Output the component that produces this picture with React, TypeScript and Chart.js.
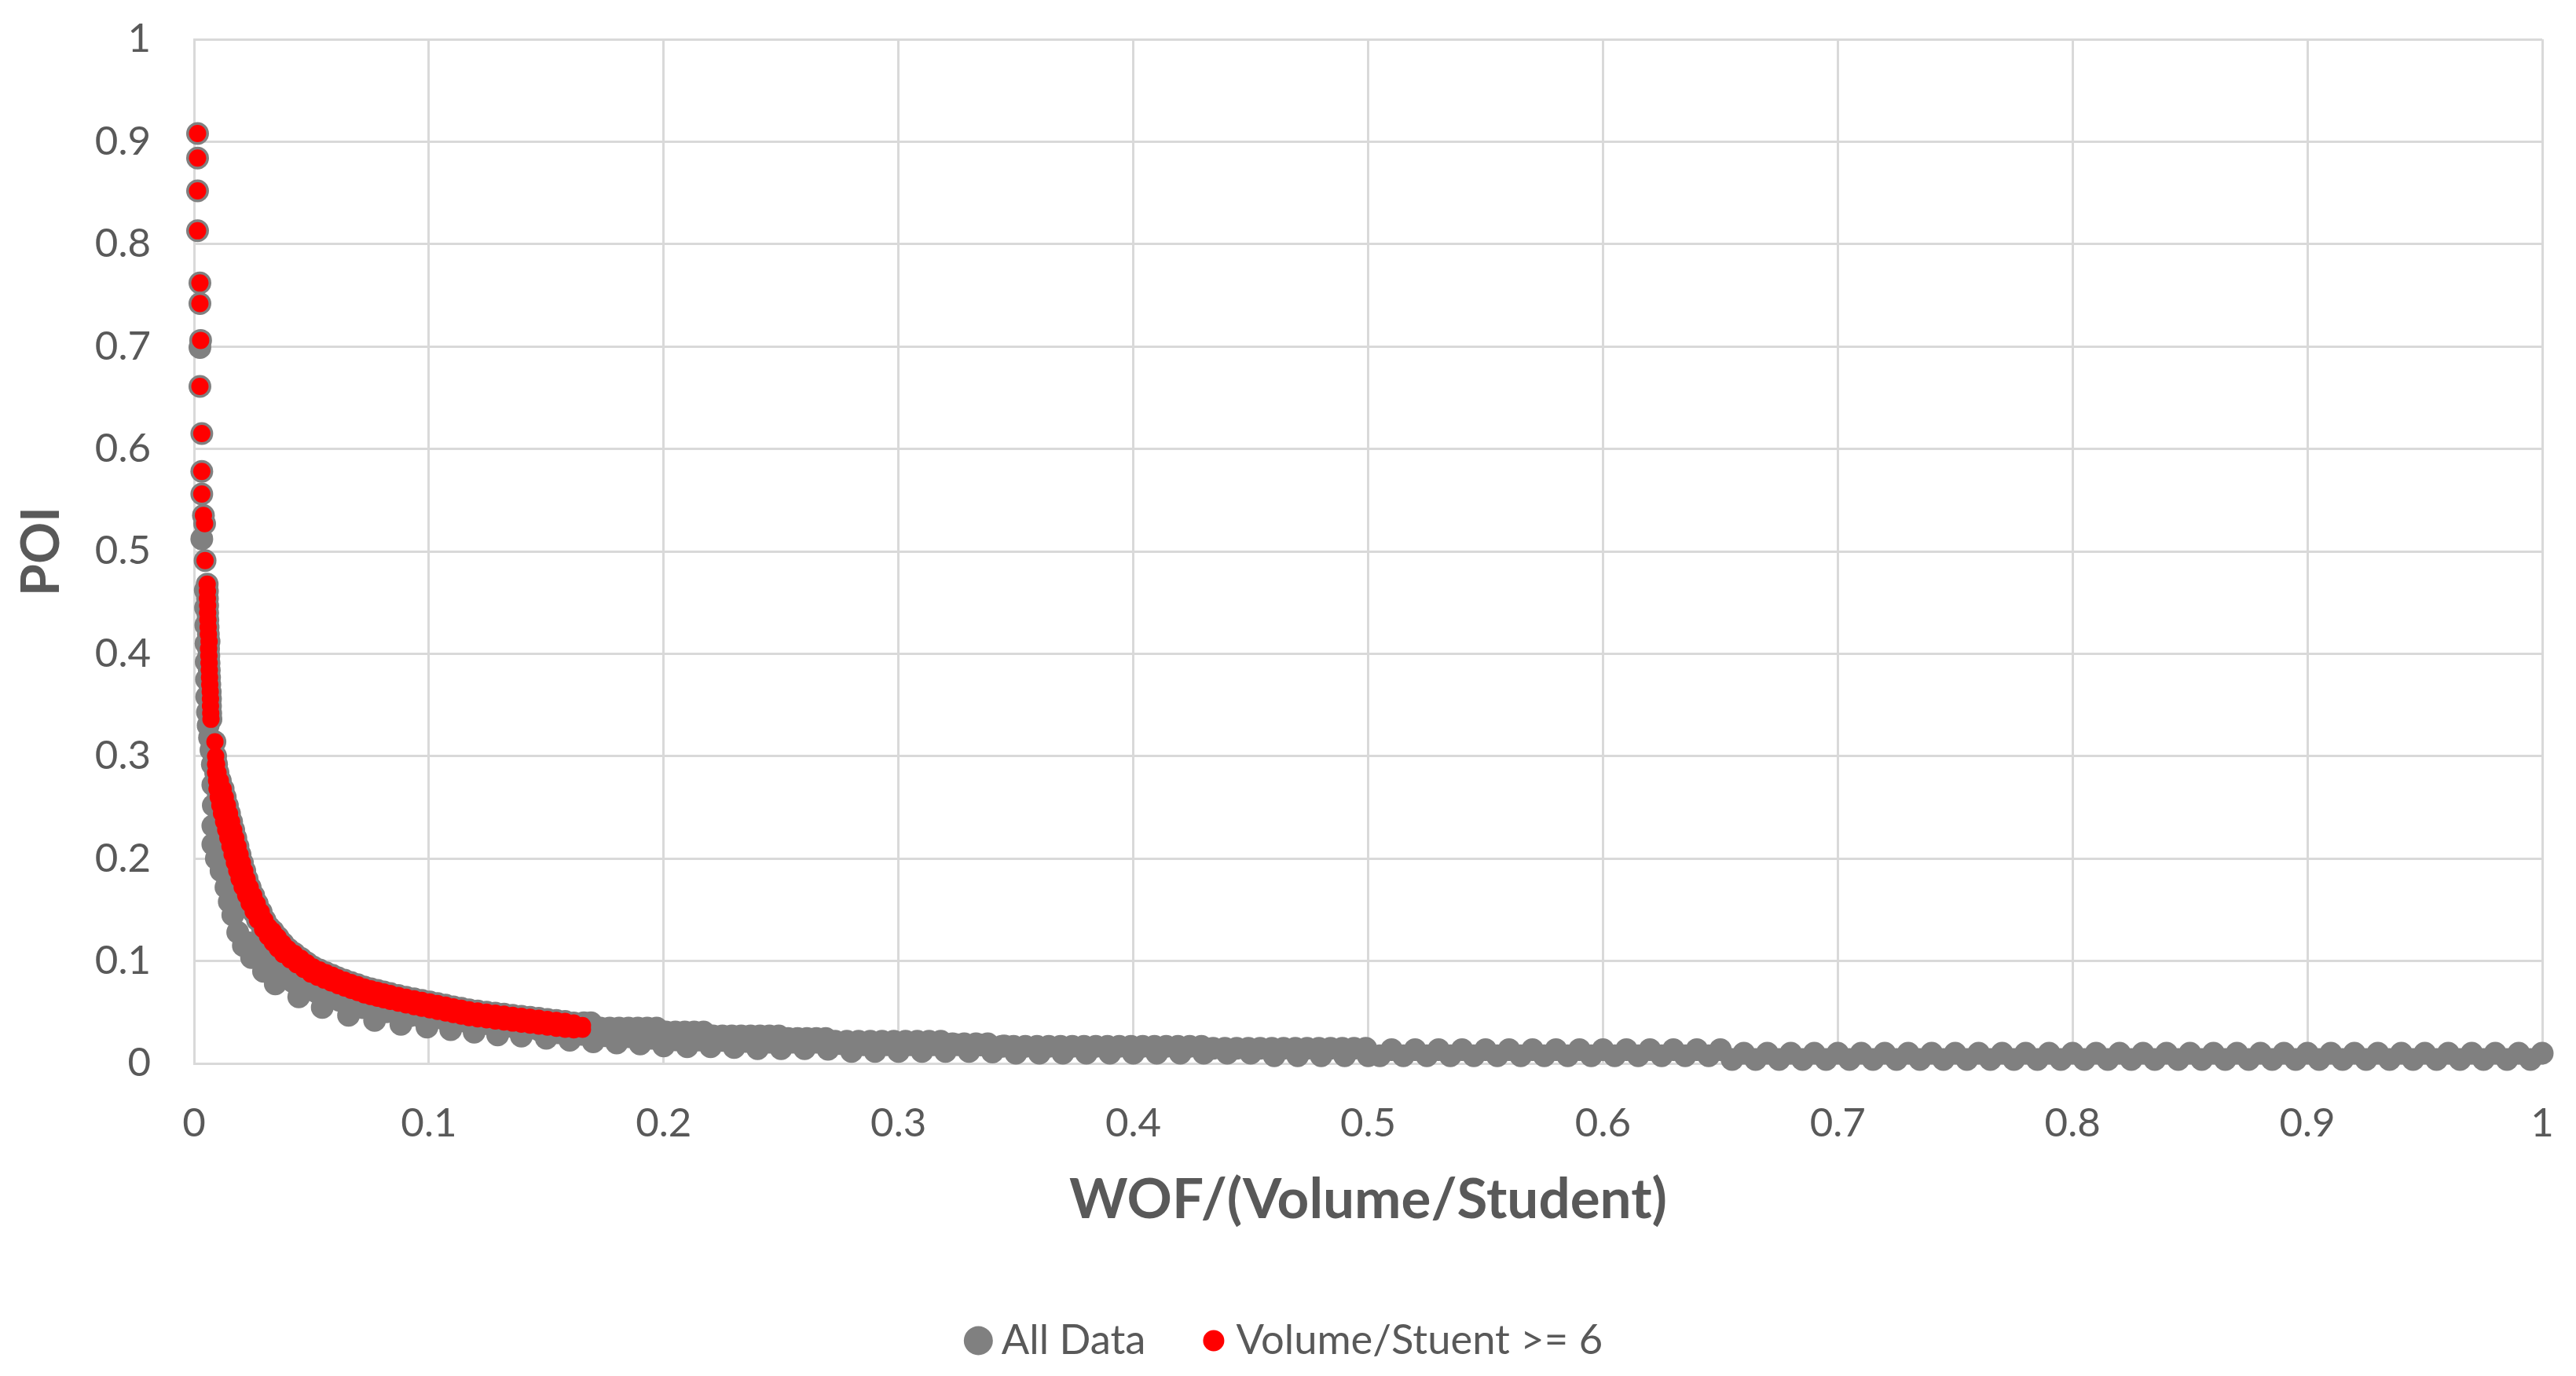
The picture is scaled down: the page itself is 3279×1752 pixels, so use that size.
import React, { useEffect, useRef } from 'react';
import { Chart, registerables } from 'chart.js';

Chart.register(...registerables);

const W = 3279;
const H = 1752;

const seriesNames = ['All Data', 'Volume/Stuent >= 6'];
const seriesColors = ['#808080', '#ff0000'];
const xTitle = 'WOF/(Volume/Student)';
const yTitle = 'POI';
const xTickLabels = ['0', '0.1', '0.2', '0.3', '0.4', '0.5', '0.6', '0.7', '0.8', '0.9', '1'];
const yTickLabels = ['0', '0.1', '0.2', '0.3', '0.4', '0.5', '0.6', '0.7', '0.8', '0.9', '1'];

// ---- "Volume/Stuent >= 6" (red) ----
const volTop: [number, number][] = [
  [0.0015, 0.908], [0.0015, 0.884], [0.0015, 0.852], [0.0015, 0.813], [0.0025, 0.762],
  [0.0025, 0.742], [0.0028, 0.706], [0.0025, 0.661], [0.0033, 0.615], [0.0033, 0.578],
  [0.0033, 0.556], [0.0040, 0.535], [0.0045, 0.527], [0.0047, 0.491], [0.0089, 0.314],
];
const volStem: [number, number][] = [
  [0.0056, 0.468], [0.0057, 0.461], [0.0057, 0.454], [0.0058, 0.447], [0.0058, 0.440],
  [0.0059, 0.433], [0.0060, 0.426], [0.0061, 0.419], [0.0064, 0.412], [0.0062, 0.405],
  [0.0063, 0.398], [0.0064, 0.391], [0.0065, 0.384], [0.0066, 0.377], [0.0067, 0.370],
  [0.0069, 0.363], [0.0070, 0.356], [0.0070, 0.349], [0.0071, 0.342], [0.0072, 0.336],
];
const volOuter: [number, number][] = [
  [0.0092, 0.300], [0.0096, 0.292], [0.0102, 0.284], [0.0112, 0.276], [0.0124, 0.268],
  [0.0133, 0.260], [0.0142, 0.252], [0.0151, 0.244], [0.0160, 0.236], [0.0169, 0.228],
  [0.0178, 0.220], [0.0187, 0.212], [0.0196, 0.204], [0.0206, 0.196], [0.0216, 0.188],
  [0.0226, 0.180], [0.0239, 0.172], [0.0254, 0.164], [0.0269, 0.156], [0.0286, 0.148],
  [0.0302, 0.140], [0.0320, 0.133], [0.0337, 0.1292], [0.0358, 0.1232], [0.0379, 0.1174],
  [0.0402, 0.1118], [0.0428, 0.1073], [0.0456, 0.1025], [0.0482, 0.0982], [0.0508, 0.0941],
  [0.0535, 0.0912], [0.0562, 0.0886], [0.0589, 0.0860], [0.0613, 0.0836], [0.0641, 0.0813],
  [0.0669, 0.0790], [0.0697, 0.0768], [0.0725, 0.0746], [0.0753, 0.0729], [0.0781, 0.0713],
  [0.0808, 0.0697], [0.0836, 0.0682], [0.0870, 0.0664], [0.0903, 0.0647], [0.0937, 0.0631],
  [0.0970, 0.0615], [0.1004, 0.0600], [0.1037, 0.0584], [0.1071, 0.0569], [0.1104, 0.0553],
  [0.1138, 0.0538], [0.1171, 0.0523], [0.1208, 0.0512], [0.1246, 0.0501], [0.1283, 0.0491],
  [0.1320, 0.0481], [0.1357, 0.0470], [0.1394, 0.0460], [0.1431, 0.0450], [0.1468, 0.0440],
  [0.1505, 0.0430], [0.1543, 0.0420], [0.1580, 0.0410], [0.1617, 0.0395], [0.1654, 0.0370],
];
const volInner: [number, number][] = [
  [0.0092, 0.292], [0.0092, 0.284], [0.0096, 0.276], [0.0098, 0.268], [0.0103, 0.260],
  [0.0110, 0.252], [0.0117, 0.244], [0.0126, 0.236], [0.0135, 0.228], [0.0144, 0.220],
  [0.0153, 0.212], [0.0162, 0.204], [0.0172, 0.196], [0.0182, 0.188], [0.0192, 0.180],
  [0.0205, 0.172], [0.0220, 0.164], [0.0235, 0.156], [0.0252, 0.148], [0.0270, 0.140],
  [0.0292, 0.131], [0.0313, 0.1238], [0.0334, 0.1178], [0.0355, 0.1120], [0.0378, 0.1064],
  [0.0408, 0.1013], [0.0436, 0.0965], [0.0466, 0.0918], [0.0496, 0.0873], [0.0525, 0.0842],
  [0.0554, 0.0814], [0.0583, 0.0786], [0.0613, 0.0760], [0.0641, 0.0737], [0.0669, 0.0714],
  [0.0697, 0.0692], [0.0725, 0.0670], [0.0753, 0.0653], [0.0781, 0.0637], [0.0808, 0.0621],
  [0.0836, 0.0606], [0.0870, 0.0588], [0.0903, 0.0571], [0.0937, 0.0555], [0.0970, 0.0539],
  [0.1004, 0.0524], [0.1037, 0.0508], [0.1071, 0.0493], [0.1104, 0.0477], [0.1138, 0.0462],
  [0.1171, 0.0447], [0.1208, 0.0436], [0.1246, 0.0425], [0.1283, 0.0415], [0.1320, 0.0405],
  [0.1357, 0.0394], [0.1394, 0.0384], [0.1431, 0.0374], [0.1468, 0.0364], [0.1505, 0.0354],
  [0.1543, 0.0344], [0.1580, 0.0334], [0.1617, 0.0328], [0.1654, 0.0334],
];

// ---- "All Data" (gray) – points not in the red series ----
const grayLoose: [number, number][] = [
  [0.0025, 0.699], [0.0033, 0.512],
  [0.0048, 0.462], [0.0049, 0.445], [0.0050, 0.428], [0.0051, 0.410], [0.0052, 0.392],
  [0.0053, 0.375], [0.0054, 0.358], [0.0057, 0.343], [0.0060, 0.330], [0.0066, 0.318],
  [0.0072, 0.306],
];
const graySteep: [number, number][] = [
  [0.0078, 0.292], [0.0080, 0.272], [0.0082, 0.252], [0.0080, 0.232], [0.0080, 0.214],
  [0.0095, 0.200], [0.0115, 0.188], [0.0136, 0.172], [0.0150, 0.158], [0.0165, 0.145],
  [0.0186, 0.128], [0.0210, 0.115],
];
const grayLow: [number, number][] = [
  [0.0245, 0.1033], [0.0296, 0.0900], [0.0346, 0.0777], [0.0446, 0.0649], [0.0546, 0.0547],
  [0.0658, 0.0470], [0.0769, 0.0419], [0.0881, 0.0381], [0.0992, 0.0355], [0.1093, 0.0330],
  [0.1193, 0.0304], [0.1293, 0.0278], [0.1394, 0.0266], [0.15, 0.0245], [0.16, 0.0226],
  [0.17, 0.0210], [0.18, 0.0200], [0.19, 0.0189], [0.20, 0.0170], [0.21, 0.0163],
  [0.22, 0.0163], [0.23, 0.0155], [0.24, 0.0143], [0.25, 0.0143], [0.26, 0.0143],
  [0.27, 0.0138], [0.28, 0.0117], [0.29, 0.0117], [0.30, 0.0117], [0.31, 0.0117],
  [0.32, 0.0117], [0.33, 0.0117], [0.34, 0.0112], [0.35, 0.0100], [0.36, 0.0100],
  [0.37, 0.0100], [0.38, 0.0100], [0.39, 0.0100], [0.40, 0.0100], [0.41, 0.0100],
  [0.42, 0.0100], [0.43, 0.0100], [0.44, 0.0100], [0.45, 0.0100], [0.46, 0.0075],
  [0.47, 0.0075], [0.48, 0.0075], [0.49, 0.0075], [0.50, 0.0075],
];
const grayMid: [number, number][] = [
  [0.0230, 0.118], [0.0270, 0.106], [0.0320, 0.095], [0.0370, 0.087], [0.0420, 0.080],
  [0.0470, 0.0745], [0.0520, 0.070], [0.0570, 0.066], [0.0620, 0.0615], [0.0670, 0.0575],
  [0.0720, 0.0545], [0.0770, 0.052], [0.0820, 0.0505], [0.0870, 0.048], [0.0920, 0.0465],
  [0.0970, 0.045], [0.1020, 0.044], [0.1070, 0.0425], [0.1120, 0.041], [0.1170, 0.0395],
  [0.1220, 0.038], [0.1270, 0.037], [0.1320, 0.0355], [0.1370, 0.0345], [0.1420, 0.0335],
  [0.1470, 0.0325], [0.155, 0.030], [0.165, 0.0283], [0.175, 0.027], [0.185, 0.026],
  [0.195, 0.0245], [0.205, 0.0231], [0.215, 0.0228], [0.225, 0.0224], [0.235, 0.0214],
  [0.245, 0.0208], [0.255, 0.0208], [0.265, 0.0208], [0.275, 0.0193], [0.285, 0.0182],
  [0.295, 0.0182], [0.305, 0.0182], [0.315, 0.0182], [0.325, 0.0182], [0.335, 0.0180],
  [0.345, 0.0170],
];
const grayUpper: [number, number][] = [
  [0.166, 0.0396], [0.169, 0.0396],
  [0.173, 0.0345], [0.177, 0.0345], [0.181, 0.0345], [0.185, 0.0345], [0.189, 0.0345],
  [0.193, 0.0345], [0.197, 0.0345],
  [0.201, 0.0307], [0.205, 0.0307], [0.209, 0.0307], [0.213, 0.0307], [0.217, 0.0307],
  [0.221, 0.0268], [0.225, 0.0268], [0.229, 0.0268], [0.233, 0.0268], [0.237, 0.0268],
  [0.241, 0.0268], [0.245, 0.0268], [0.249, 0.0268],
  [0.253, 0.0243], [0.257, 0.0243], [0.261, 0.0243], [0.265, 0.0243], [0.269, 0.0243],
  [0.273, 0.0217], [0.278, 0.0217], [0.283, 0.0217], [0.288, 0.0217], [0.293, 0.0217],
  [0.298, 0.0217], [0.303, 0.0217], [0.308, 0.0217], [0.313, 0.0217], [0.318, 0.0217],
  [0.323, 0.0192], [0.328, 0.0192], [0.333, 0.0192], [0.338, 0.0192],
  [0.344, 0.0166], [0.349, 0.0166], [0.354, 0.0166], [0.359, 0.0166], [0.364, 0.0166],
  [0.369, 0.0166], [0.374, 0.0166], [0.379, 0.0166], [0.384, 0.0166], [0.389, 0.0166],
  [0.394, 0.0166], [0.399, 0.0166], [0.404, 0.0166], [0.409, 0.0166], [0.414, 0.0166],
  [0.419, 0.0166], [0.424, 0.0166], [0.429, 0.0166],
  [0.434, 0.0148], [0.439, 0.0148], [0.444, 0.0148], [0.449, 0.0148], [0.454, 0.0148],
  [0.459, 0.0148], [0.464, 0.0148], [0.469, 0.0148], [0.474, 0.0148], [0.479, 0.0148],
  [0.484, 0.0148], [0.489, 0.0148], [0.494, 0.0148], [0.499, 0.0148],
];
const tailX = [
  0.51, 0.52, 0.53, 0.54, 0.55, 0.56, 0.57, 0.58, 0.59, 0.60, 0.61, 0.62, 0.63, 0.64, 0.65,
  0.66, 0.67, 0.68, 0.69, 0.70, 0.71, 0.72, 0.73, 0.74, 0.75, 0.76, 0.77, 0.78, 0.79, 0.80,
  0.81, 0.82, 0.83, 0.84, 0.85, 0.86, 0.87, 0.88, 0.89, 0.90, 0.91, 0.92, 0.93, 0.94, 0.95,
  0.96, 0.97, 0.98, 0.99, 1.00,
];
const tailHiY = [
  0.0134, 0.0134, 0.0134, 0.0134, 0.0134, 0.0134, 0.0134, 0.0134, 0.0134, 0.0134, 0.0134, 0.0134, 0.0134, 0.0134, 0.0134,
  0.0100, 0.0100, 0.0100, 0.0100, 0.0100, 0.0100, 0.0100, 0.0100, 0.0100, 0.0100, 0.0100, 0.0100, 0.0100, 0.0100, 0.0100,
  0.0100, 0.0100, 0.0100, 0.0100, 0.0100, 0.0100, 0.0100, 0.0100, 0.0100, 0.0100, 0.0100, 0.0100, 0.0100, 0.0100, 0.0100,
  0.0100, 0.0100, 0.0100, 0.0100, 0.0100,
];
const tailLoX = [
  0.505, 0.515, 0.525, 0.535, 0.545, 0.555, 0.565, 0.575, 0.585, 0.595, 0.605, 0.615, 0.625, 0.635, 0.645,
  0.655, 0.665, 0.675, 0.685, 0.695, 0.705, 0.715, 0.725, 0.735, 0.745, 0.755, 0.765, 0.775, 0.785, 0.795,
  0.805, 0.815, 0.825, 0.835, 0.845, 0.855, 0.865, 0.875, 0.885, 0.895, 0.905, 0.915, 0.925, 0.935, 0.945,
  0.955, 0.965, 0.975, 0.985, 0.995,
];
const tailLoY = [
  0.0074, 0.0074, 0.0074, 0.0074, 0.0074, 0.0074, 0.0074, 0.0074, 0.0074, 0.0074, 0.0074, 0.0074, 0.0074, 0.0074, 0.0074,
  0.0038, 0.0038, 0.0038, 0.0038, 0.0038, 0.0038, 0.0038, 0.0038, 0.0038, 0.0038, 0.0038, 0.0038, 0.0038, 0.0038, 0.0038,
  0.0038, 0.0038, 0.0038, 0.0038, 0.0038, 0.0038, 0.0038, 0.0038, 0.0038, 0.0038, 0.0038, 0.0038, 0.0038, 0.0038, 0.0038,
  0.0038, 0.0038, 0.0038, 0.0038, 0.0038,
];

const TEXT = '#595959';
const GRID = '#d9d9d9';
const FONT = 'Lato';

export default function App() {
  const ref = useRef<HTMLCanvasElement>(null);

  useEffect(() => {
    if (!ref.current) return;
    const pts = (arr: [number, number][]) => arr.map(([x, y]) => ({ x, y }));
    const redPts = [...pts(volTop), ...pts(volStem), ...pts(volOuter), ...pts(volInner)];
    const grayPts = [
      ...redPts,
      ...pts(grayLoose), ...pts(graySteep), ...pts(grayLow), ...pts(grayMid), ...pts(grayUpper),
      ...tailX.map((x, i) => ({ x, y: tailHiY[i] })),
      ...tailLoX.map((x, i) => ({ x, y: tailLoY[i] })),
    ];

    const legendPlugin = {
      id: 'bottomLegend',
      afterDraw(chart: any) {
        const ctx = chart.ctx as CanvasRenderingContext2D;
        ctx.save();
        ctx.font = `52.5px ${FONT}`;
        ctx.textBaseline = 'middle';
        ctx.textAlign = 'left';
        const items = [
          { text: seriesNames[0], color: seriesColors[0], r: 18.5, gap: 11 },
          { text: seriesNames[1], color: seriesColors[1], r: 13.5, gap: 15 },
        ];
        const itemGap = 73;
        const widths = items.map((it) => 2 * it.r + it.gap + ctx.measureText(it.text).width);
        const total = widths.reduce((a, b) => a + b, 0) + itemGap * (items.length - 1);
        let x = chart.width / 2 - total / 2 - 6;
        const y = 1707;
        items.forEach((it, i) => {
          ctx.fillStyle = it.color;
          ctx.beginPath();
          ctx.arc(x + it.r, y, it.r, 0, Math.PI * 2);
          ctx.fill();
          ctx.fillStyle = TEXT;
          ctx.fillText(it.text, x + 2 * it.r + it.gap, y);
          x += widths[i] + itemGap;
        });
        ctx.restore();
      },
    };

    const chart = new Chart(ref.current, {
      type: 'scatter',
      data: {
        datasets: [
          {
            label: seriesNames[0],
            data: grayPts,
            backgroundColor: seriesColors[0],
            borderColor: seriesColors[0],
            pointRadius: 14.5,
            pointBorderWidth: 0,
            order: 2,
            clip: false as any,
          },
          {
            label: seriesNames[1],
            data: redPts,
            backgroundColor: seriesColors[1],
            borderColor: seriesColors[1],
            pointRadius: 11,
            pointBorderWidth: 0,
            order: 1,
            clip: false as any,
          },
        ],
      },
      options: {
        responsive: false,
        animation: false,
        events: [],
        layout: { padding: { left: 0, right: 43, top: 50, bottom: 0 } },
        plugins: { legend: { display: false }, tooltip: { enabled: false } },
        scales: {
          x: {
            type: 'linear',
            min: 0,
            max: 1,
            ticks: {
              stepSize: 0.1,
              padding: 46,
              color: TEXT,
              font: { family: FONT, size: 51 },
              maxRotation: 0,
              autoSkip: false,
              callback: (v: any) => xTickLabels[Math.round(Number(v) * 10)],
            },
            grid: { color: GRID, lineWidth: 3, drawTicks: false },
            border: { color: GRID, width: 3 },
            title: {
              display: true,
              text: xTitle,
              color: TEXT,
              font: { family: FONT, size: 71, weight: 'bold' },
              padding: { top: 0, bottom: 181 },
            },
            afterFit: (s: any) => {
              s.height = 398;
              s.paddingLeft = 0;
              s.paddingRight = 0;
            },
          },
          y: {
            type: 'linear',
            min: 0,
            max: 1,
            ticks: {
              stepSize: 0.1,
              padding: 55,
              color: TEXT,
              font: { family: FONT, size: 51 },
              callback: (v: any) => yTickLabels[Math.round(Number(v) * 10)],
            },
            grid: { color: GRID, lineWidth: 3, drawTicks: false },
            border: { color: GRID, width: 3 },
            title: {
              display: true,
              text: yTitle,
              color: TEXT,
              font: { family: FONT, size: 66, weight: 'bold' },
              padding: { top: 14, bottom: 0 },
            },
            afterFit: (s: any) => {
              s.width = 247;
              s.paddingTop = 0;
              s.paddingBottom = 0;
            },
          },
        },
      },
      plugins: [legendPlugin],
    });
    return () => chart.destroy();
  }, []);

  return (
    <div style={{ position: 'fixed', left: 0, top: 0, width: W, height: H, background: '#ffffff' }}>
      <canvas ref={ref} width={W} height={H} style={{ display: 'block' }} />
    </div>
  );
}
